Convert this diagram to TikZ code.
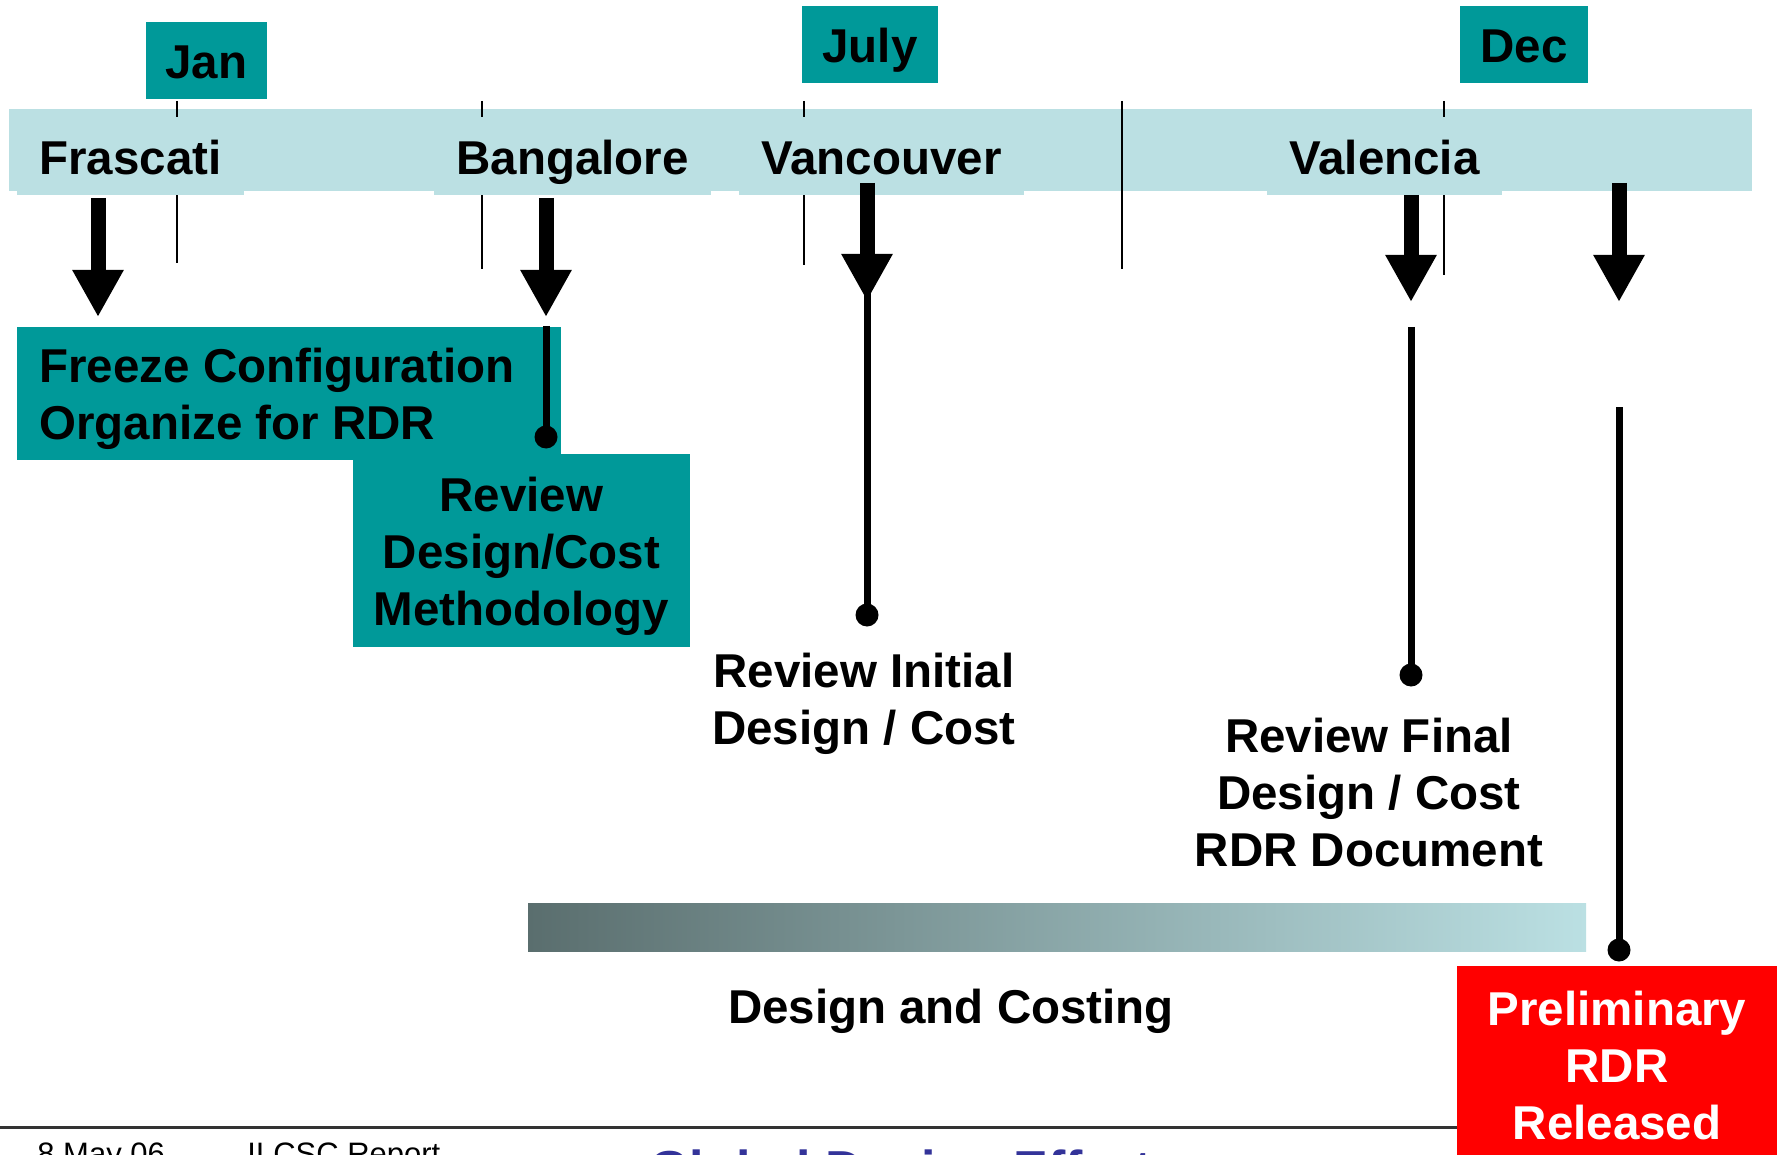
\documentclass[tikz,border=0pt]{standalone}
\usepackage{fontspec}
\setmainfont{Liberation Sans}
\usetikzlibrary{arrows.meta}
\definecolor{tealc}{HTML}{009999}
\definecolor{bandc}{HTML}{BBE0E3}
\definecolor{gdark}{HTML}{5A6E6E}
\definecolor{navyc}{HTML}{333399}
\definecolor{redc}{HTML}{FF0000}
\newcommand{\bigfont}{\bfseries\fontsize{23.75}{28.5}\selectfont}
\newcommand{\mylines}[2][c]{\begin{tabular}[t]{@{}#1@{}}#2\end{tabular}}
\begin{document}
\begin{tikzpicture}[x=0.5pt,y=-0.5pt,
  txt/.style={inner sep=0pt, font=\bigfont},
  placebox/.style={txt, fill=bandc, inner xsep=11pt, text height=29pt, text depth=10pt, anchor=base west},
  monthbox/.style={txt, fill=tealc, inner xsep=10pt, text height=28.5pt, text depth=10pt, anchor=base},
  ticklin/.style={line width=0.75pt},
  bigarrow/.style={line width=7.5pt, -{Triangle[width=24pt,length=23.5pt]}},
  stem/.style={line width=3.5pt},
  dotmark/.style={circle, fill=black, inner sep=0pt, minimum size=11.5pt},
  footer/.style={inner sep=0pt, anchor=base west, font=\fontsize{15.5}{18}\selectfont}]
\useasboundingbox (0,0) rectangle (1778,1155);
% timeline band
\fill[bandc] (9,109) rectangle (1752,191);
% ticks
\coordinate (t1a) at (177,101); \coordinate (t1b) at (177,263);
\coordinate (t2a) at (482,101); \coordinate (t2b) at (482,269);
\coordinate (t3a) at (804,101); \coordinate (t3b) at (804,265);
\coordinate (t4a) at (1122,101); \coordinate (t4b) at (1122,269);
\coordinate (t5a) at (1444,101); \coordinate (t5b) at (1444,275);
\draw[ticklin] (t1a) -- (t1b);
\draw[ticklin] (t2a) -- (t2b);
\draw[ticklin] (t3a) -- (t3b);
\draw[ticklin] (t4a) -- (t4b);
\draw[ticklin] (t5a) -- (t5b);
% places
\node[placebox] (frascati) at (17,175) {Frascati};
\node[placebox] (bangalore) at (434,175) {Bangalore};
\node[placebox] (vancouver) at (739,175) {Vancouver};
\node[placebox] (valencia) at (1267,175) {Valencia};
% months
\node[monthbox] (jan) at (206.5,79) {Jan};
\node[monthbox] (july) at (870,63) {July};
\node[monthbox] (dec) at (1524,63) {Dec};
% boxes
\node[txt, fill=tealc, anchor=base west, inner xsep=11pt, text height=27.5pt, text depth=39pt] (freeze) at (17,382)
  {\mylines[p{250pt}]{Freeze Configuration\\Organize for RDR}};
\node[txt, fill=tealc, anchor=base, minimum width=168.5pt, text height=28.5pt, text depth=68pt] (review) at (521.5,511)
  {\mylines{Review\\Design/Cost\\Methodology}};
% arrows
\coordinate (a1s) at (98,198);   \coordinate (a1e) at (98,317);
\coordinate (a2s) at (546,198);  \coordinate (a2e) at (546,317);
\coordinate (a3s) at (867,183);  \coordinate (a3e) at (867,301);
\coordinate (a4s) at (1411,195); \coordinate (a4e) at (1411,302);
\coordinate (a5s) at (1619,183); \coordinate (a5e) at (1619,302);
\draw[bigarrow] (a1s) -- (a1e);
\draw[bigarrow] (a2s) -- (a2e);
\draw[bigarrow] (a3s) -- (a3e);
\draw[bigarrow] (a4s) -- (a4e);
\draw[bigarrow] (a5s) -- (a5e);
% stems and dots
\node[dotmark] (d0) at (546,437) {};
\node[dotmark] (d1) at (867,615) {};
\node[dotmark] (d2) at (1411,675) {};
\coordinate (s0) at (546,326);
\coordinate (s1) at (867,270);
\coordinate (s2) at (1411,327);
\coordinate (s3) at (1619,407);
\draw[stem] (s0) -- (d0.center);
\draw[stem] (s1) -- (d1.center);
\draw[stem] (s2) -- (d2.center);
% texts
\node[txt, anchor=base] (initial) at (864,687) {\mylines{Review Initial\\Design / Cost}};
\node[txt, anchor=base] (final) at (1369,752) {\mylines{Review Final\\Design / Cost\\RDR Document}};
% design and costing bar
\shade[left color=gdark, right color=bandc] (528,903) rectangle (1586,951);
\node[txt, anchor=base] (costing) at (951,1023) {Design and Costing};
% footer
\coordinate (fl0) at (0,1127); \coordinate (fl1) at (1457,1127);
\draw[line width=1.5pt, black!80] (fl0) -- (fl1);
\node[footer] (date) at (37,1164) {8 May 06};
\node[footer] (rep) at (247,1164) {ILCSC Report};
\node[footer, font=\bfseries\fontsize{26}{30}\selectfont, text=navyc] (gde) at (649,1187) {Global Design Effort};
% preliminary RDR
\node[txt, fill=redc, text=white, anchor=base, minimum width=160pt, text height=29.5pt, text depth=80pt] (prelim) at (1617,1025)
  {\mylines{Preliminary\\RDR\\Released}};
\node[dotmark] (d3) at (1619,950) {};
\draw[stem] (s3) -- (d3.center);
\end{tikzpicture}
\end{document}
